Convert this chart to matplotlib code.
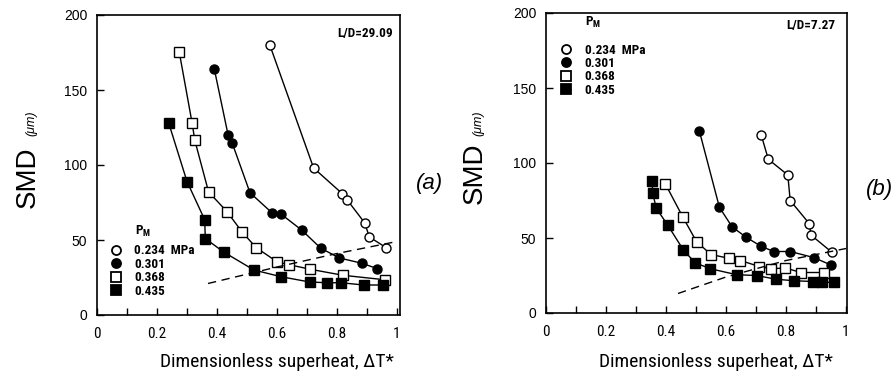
import matplotlib
matplotlib.use("Agg")
import matplotlib.pyplot as plt
from matplotlib import font_manager as fm
from matplotlib.lines import Line2D

# pick a narrow face for the condensed labels, if one is there
names = {f.name for f in fm.fontManager.ttflist}
COND = {"family": ["DejaVu Sans"]}
for c in ["Liberation Sans Narrow", "Roboto Condensed", "Open Sans Condensed", "Noto Sans Condensed"]:
    if c in names:
        COND = {"family": [c, "DejaVu Sans"]}
        break
else:
    if any(f.name == "DejaVu Sans" and f.stretch == "condensed" for f in fm.fontManager.ttflist):
        COND = {"family": ["DejaVu Sans"], "stretch": "condensed"}
HELV = ["Liberation Sans", "DejaVu Sans"]

pressures = ["0.234  MPa", "0.301", "0.368", "0.435"]
markers = ["o", "o", "s", "s"]
faces = ["white", "black", "white", "black"]

# panel (a), L/D = 29.09
a_x = [
    [0.576, 0.722, 0.817, 0.833, 0.892, 0.908, 0.963],
    [0.391, 0.437, 0.450, 0.510, 0.584, 0.612, 0.683, 0.746, 0.808, 0.883, 0.933],
    [0.274, 0.317, 0.326, 0.372, 0.433, 0.483, 0.530, 0.600, 0.641, 0.711, 0.819, 0.959],
    [0.239, 0.300, 0.359, 0.361, 0.422, 0.523, 0.614, 0.709, 0.767, 0.814, 0.889, 0.952],
]
a_y = [
    [180, 98, 81, 77, 61.5, 52, 45],
    [164, 120, 115, 81.5, 68, 67.5, 56.5, 44.5, 38, 34.5, 31],
    [175.5, 128, 116.5, 82, 69, 55.5, 45, 35.5, 33.5, 30.5, 26.5, 23.5],
    [128, 89, 63.5, 51, 42, 30, 25.5, 22, 21.5, 21.5, 20, 20],
]
a_dash_x = [0.37, 0.6, 0.8, 1.0]
a_dash_y = [21, 32, 41, 49]

# panel (b), L/D = 7.27
b_x = [
    [0.717, 0.741, 0.806, 0.814, 0.878, 0.883, 0.953],
    [0.511, 0.578, 0.620, 0.667, 0.717, 0.759, 0.814, 0.892, 0.950],
    [0.398, 0.456, 0.502, 0.550, 0.609, 0.648, 0.711, 0.750, 0.798, 0.850, 0.928],
    [0.353, 0.356, 0.367, 0.406, 0.458, 0.497, 0.548, 0.636, 0.702, 0.767, 0.828, 0.889, 0.920, 0.959],
]
b_y = [
    [119, 102.5, 92, 75, 59.5, 52, 40.5],
    [121.5, 70.5, 57.5, 50.5, 44.5, 41, 41, 37, 32],
    [86, 64, 47.5, 39, 36.5, 35, 31, 29.5, 30, 27, 27],
    [88, 80, 70, 58.5, 42, 33.5, 29.5, 25.5, 25, 22.5, 21.5, 21, 20.5, 20.5],
]
b_dash_x = [0.44, 0.6, 0.8, 1.0]
b_dash_y = [13, 24, 35, 43]

xticks = [0, 0.2, 0.4, 0.6, 0.8, 1.0]
xtick_labels = ["0", "0.2", "0.4", "0.6", "0.8", "1"]
yticks = [0, 50, 100, 150, 200]
ytick_labels = ["0", "50", "100", "150", "200"]

fig = plt.figure(figsize=(8.95, 3.83), dpi=100)
W, H = 895.0, 383.0


def fx(px):
    return px / W


def fy(py):
    return 1 - py / H


def make_axes(left_px, right_px, zero_px, xs, ys, dx, dy, ld, ld_pos, tag, tag_xy,
              smd_xy, um_xy, xlab_x, leg_loc, leg_anchor, pm_xy):
    ax = fig.add_axes([fx(left_px), fy(zero_px), (right_px - left_px) / W, 300 / H])
    for i in range(4):
        ax.plot(xs[i], ys[i], color="black", lw=1.0, marker=markers[i], ms=6.5,
                mfc=faces[i], mec="black", mew=1.0)
    ax.plot(dx, dy, color="black", lw=1.0, ls=(0, (6, 4)))
    ax.set_xlim(0, (right_px - left_px) / 300.0)
    ax.set_ylim(0, 200)
    ax.set_xticks(xticks)
    ax.set_xticklabels(xtick_labels, fontsize=11, **COND)
    ax.set_xticks([0.1, 0.3, 0.5, 0.7, 0.9], minor=True)
    ax.set_yticks(yticks)
    ax.set_yticklabels(ytick_labels, fontsize=10, family=HELV)
    ax.tick_params(which="both", direction="in", length=5, width=1, top=False, right=False)
    ax.tick_params(axis="x", pad=9)
    ax.tick_params(axis="y", pad=7)
    for s in ax.spines.values():
        s.set_linewidth(1.2)
    ax.text(ld_pos[0], ld_pos[1], ld, transform=ax.transAxes, ha="right", va="center",
            fontsize=9.5, fontweight="bold", **COND)
    handles = [Line2D([], [], ls="none", marker=markers[i], ms=6.5, mfc=faces[i], mec="black", mew=1.3)
               for i in range(4)]
    prop = dict(size=9.5, weight="bold", **COND)
    ax.legend(handles, pressures, loc=leg_loc, bbox_to_anchor=leg_anchor, frameon=False,
              handletextpad=0.9, labelspacing=0.03, borderpad=0, handlelength=1.0,
              borderaxespad=0, prop=prop)
    ax.text(pm_xy[0], pm_xy[1], r"P$_{\mathregular{M}}$", transform=ax.transAxes,
            fontsize=9.5, fontweight="bold", va="center", **COND)
    fig.text(fx(tag_xy[0]), fy(tag_xy[1]), tag, fontsize=16, style="italic",
             family=HELV, ha="center", va="center")
    fig.text(fx(smd_xy[0]), fy(smd_xy[1]), "SMD", rotation=90, rotation_mode="anchor",
             fontsize=20, family=HELV, ha="left", va="baseline")
    fig.text(fx(um_xy[0]), fy(um_xy[1]), "(μm)", rotation=90, rotation_mode="anchor",
             fontsize=9, style="italic", family=HELV, ha="left", va="baseline")
    fig.text(fx(xlab_x), fy(362), "Dimensionless superheat, ΔT*", fontsize=14,
             ha="center", va="center", **COND)
    return ax


make_axes(97, 400, 315, a_x, a_y, a_dash_x, a_dash_y, "L/D=29.09", (0.975, 0.94),
          "(a)", (430, 183), (35, 208), (34, 136), 277,
          "lower left", (0.041, 0.058), (0.125, 0.277))
make_axes(546, 847, 313, b_x, b_y, b_dash_x, b_dash_y, "L/D=7.27", (0.96, 0.96),
          "(b)", (880, 190), (482, 204), (481, 136), 716,
          "upper left", (0.045, 0.898), (0.13, 0.967))

fig.savefig("out.png", dpi=100)
